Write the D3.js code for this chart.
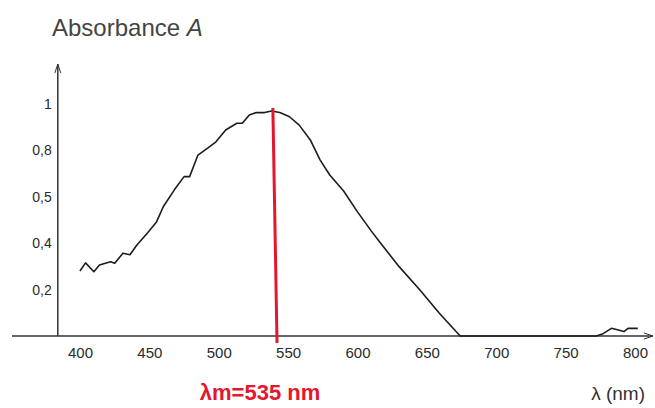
<!DOCTYPE html>
<html>
<head>
  <meta charset="utf-8">
  <title>Absorbance spectrum</title>
  <script src="https://cdn.jsdelivr.net/npm/d3@7/dist/d3.min.js"></script>
  <style>
    body { margin: 0; background: #fff; }
    text { font-family: "Liberation Sans", Arial, sans-serif; }
  </style>
</head>
<body>
<svg id="chart" width="655" height="408"></svg>
<script>
// wavelength (nm) and absorbance
const lambda = [400, 404, 410, 414, 422, 425, 431, 436, 441, 448, 455, 460, 468, 475, 479, 485,
  492, 498, 505, 513, 517, 522, 527, 533, 538, 544, 551, 558, 566, 573, 580, 590, 600, 610,
  616, 630, 645, 659, 674, 700, 740, 772, 777, 783, 788, 792, 795, 802];
const absorb = [0.28, 0.315, 0.277, 0.306, 0.32, 0.314, 0.357, 0.35, 0.392, 0.44, 0.49, 0.557, 0.63, 0.687, 0.687, 0.78,
  0.81, 0.837, 0.888, 0.917, 0.917, 0.953, 0.963, 0.963, 0.97, 0.963, 0.945, 0.909, 0.845, 0.759, 0.694, 0.625, 0.535, 0.452,
  0.405, 0.299, 0.198, 0.098, 0, 0, 0, 0, 0.01, 0.033, 0.026, 0.019, 0.033, 0.033];

const xTicks = [400, 450, 500, 550, 600, 650, 700, 750, 800];
const yTicks = [0.2, 0.4, 0.6, 0.8, 1];
const yTickLabels = ["0,2", "0,4", "0,5", "0,8", "1"];

// peak marker (the drawn line is slightly slanted)
const peakLine = [{ l: 539, a: 0.983 }, { l: 542, a: -0.03 }];
const peakLabel = "λm=535 nm";

const svg = d3.select("#chart");
const x = d3.scaleLinear([400, 800], [80, 635]);
const y = d3.scaleLinear([0, 1], [336, 104]);

// axis lines with small arrow heads
const axisColor = "#333";
svg.append("line")
  .attr("x1", x(351)).attr("x2", x(813))
  .attr("y1", y(0)).attr("y2", y(0))
  .attr("stroke", axisColor).attr("stroke-width", 1.5);
svg.append("line")
  .attr("x1", x(384)).attr("x2", x(384))
  .attr("y1", y(0)).attr("y2", y(1.172))
  .attr("stroke", axisColor).attr("stroke-width", 1.5);
svg.append("path")
  .attr("d", `M${x(384) - 3},${y(1.172) + 9} L${x(384)},${y(1.172)} L${x(384) + 3},${y(1.172) + 9}`)
  .attr("fill", "none").attr("stroke", axisColor).attr("stroke-width", 1);
svg.append("path")
  .attr("d", `M${x(813) - 9},${y(0) - 3} L${x(813)},${y(0)} L${x(813) - 9},${y(0) + 3}`)
  .attr("fill", "none").attr("stroke", axisColor).attr("stroke-width", 1);

const xAxis = svg.append("g")
  .attr("transform", `translate(0,${y(0)})`)
  .call(d3.axisBottom(x).tickValues(xTicks).tickSize(0).tickPadding(11));
xAxis.select(".domain").remove();
xAxis.selectAll("text")
  .attr("font-size", 15).attr("fill", "#2a2a2a")
  .style("font-family", "'Liberation Sans', Arial, sans-serif");

const yAxis = svg.append("g")
  .attr("transform", `translate(${x(384)},0)`)
  .call(d3.axisLeft(y).tickValues(yTicks).tickSize(0).tickPadding(6)
    .tickFormat((d, i) => yTickLabels[i]));
yAxis.select(".domain").remove();
yAxis.selectAll("text")
  .attr("font-size", 14).attr("fill", "#2a2a2a")
  .style("font-family", "'Liberation Sans', Arial, sans-serif");

// spectrum
const pts = lambda.map((l, i) => [l, absorb[i]]);
svg.append("path")
  .datum(pts)
  .attr("fill", "none")
  .attr("stroke", "#1c1c1c")
  .attr("stroke-width", 1.6)
  .attr("stroke-linejoin", "round")
  .attr("d", d3.line().x(d => x(d[0])).y(d => y(d[1])));

// red peak line
svg.append("line")
  .attr("x1", x(peakLine[0].l)).attr("y1", y(peakLine[0].a))
  .attr("x2", x(peakLine[1].l)).attr("y2", y(peakLine[1].a))
  .attr("stroke", "#e3172d").attr("stroke-width", 3);

// labels
svg.append("text")
  .attr("x", 52).attr("y", 36)
  .attr("font-size", 24).attr("fill", "#444")
  .text("Absorbance ")
  .append("tspan").attr("font-style", "italic").text("A");

svg.append("text")
  .attr("x", 260).attr("y", 400)
  .attr("text-anchor", "middle")
  .attr("font-size", 22).attr("font-weight", "bold").attr("fill", "#e3172d")
  .text(peakLabel);

svg.append("text")
  .attr("x", 645).attr("y", 400)
  .attr("text-anchor", "end")
  .attr("font-size", 19).attr("fill", "#333")
  .text("λ (nm)");
</script>
</body>
</html>
